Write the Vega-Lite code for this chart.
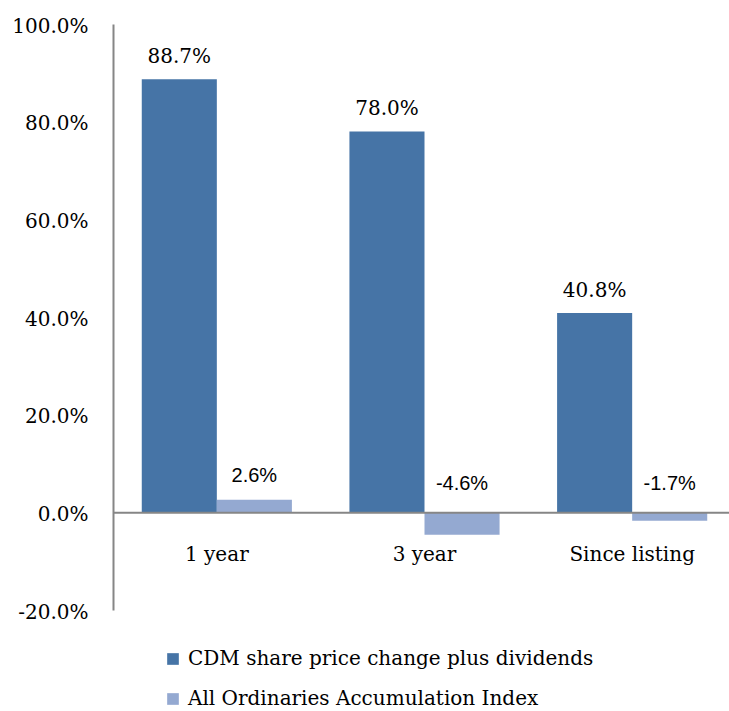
{
  "$schema": "https://vega.github.io/schema/vega-lite/v6.json",
  "width": 623,
  "height": 586,
  "autosize": "none",
  "padding": {"left": 113, "top": 24, "right": 0, "bottom": 101},
  "background": "white",
  "config": {
    "view": {"stroke": null},
    "axis": {"domainColor": "#868686", "domainWidth": 2, "ticks": false, "grid": false, "labelColor": "black", "labelFont": "DejaVu Serif", "labelFontSize": 20, "title": null}
  },
  "data": {
    "values": [
      {"period": "1 year", "series": "CDM share price change plus dividends", "value": 88.7, "label": "88.7%"},
      {"period": "1 year", "series": "All Ordinaries Accumulation Index", "value": 2.6, "label": "2.6%"},
      {"period": "3 year", "series": "CDM share price change plus dividends", "value": 78.0, "label": "78.0%"},
      {"period": "3 year", "series": "All Ordinaries Accumulation Index", "value": -4.6, "label": "-4.6%"},
      {"period": "Since listing", "series": "CDM share price change plus dividends", "value": 40.8, "label": "40.8%"},
      {"period": "Since listing", "series": "All Ordinaries Accumulation Index", "value": -1.7, "label": "-1.7%"}
    ]
  },
  "encoding": {
    "x": {
      "field": "period", "type": "nominal", "sort": ["1 year", "3 year", "Since listing"],
      "scale": {"paddingInner": 0.277, "paddingOuter": 0.1385},
      "axis": {"orient": "bottom", "offset": -97.7, "labelAngle": 0, "labelPadding": 32, "labelBaseline": "top", "zindex": 1}
    },
    "xOffset": {
      "field": "series", "type": "nominal",
      "sort": ["CDM share price change plus dividends", "All Ordinaries Accumulation Index"],
      "scale": {"paddingInner": 0, "paddingOuter": 0}
    }
  },
  "layer": [
    {
      "mark": {"type": "bar"},
      "encoding": {
        "y": {
          "field": "value", "type": "quantitative",
          "scale": {"domain": [-20, 100], "nice": false, "zero": false},
          "axis": {"values": [-20, 0, 20, 40, 60, 80, 100], "labelExpr": "replace(format(datum.value, '.1f'), '\u2212', '-') + '%'", "labelPadding": 25, "labelOffset": 2}
        },
        "color": {
          "field": "series", "type": "nominal",
          "sort": ["CDM share price change plus dividends", "All Ordinaries Accumulation Index"],
          "scale": {"domain": ["CDM share price change plus dividends", "All Ordinaries Accumulation Index"], "range": ["#4674A6", "#94A9D1"]},
          "legend": {
            "orient": "none", "legendX": 50, "legendY": 625, "direction": "vertical", "title": null,
            "symbolType": "square", "symbolSize": 136, "symbolStrokeWidth": 0, "symbolOpacity": 1,
            "labelFont": "DejaVu Serif", "labelFontSize": 20, "labelColor": "black", "labelLimit": 600,
            "labelOffset": 5, "rowPadding": 20, "padding": 0
          }
        }
      }
    },
    {
      "transform": [{"filter": "datum.series === 'CDM share price change plus dividends'"}],
      "mark": {"type": "text", "font": "DejaVu Serif", "fontSize": 20, "baseline": "alphabetic", "dy": -16.5, "color": "black"},
      "encoding": {
        "y": {"field": "value", "type": "quantitative"},
        "text": {"field": "label", "type": "nominal"}
      }
    },
    {
      "transform": [{"filter": "datum.series === 'All Ordinaries Accumulation Index' && datum.value >= 0"}],
      "mark": {"type": "text", "font": "Liberation Sans", "fontSize": 20, "baseline": "alphabetic", "dy": -17.5, "color": "black"},
      "encoding": {
        "y": {"field": "value", "type": "quantitative"},
        "text": {"field": "label", "type": "nominal"}
      }
    },
    {
      "transform": [{"filter": "datum.series === 'All Ordinaries Accumulation Index' && datum.value < 0"}],
      "mark": {"type": "text", "font": "Liberation Sans", "fontSize": 20, "baseline": "alphabetic", "dy": -22.5, "color": "black"},
      "encoding": {
        "y": {"datum": 0, "type": "quantitative"},
        "text": {"field": "label", "type": "nominal"}
      }
    }
  ]
}
